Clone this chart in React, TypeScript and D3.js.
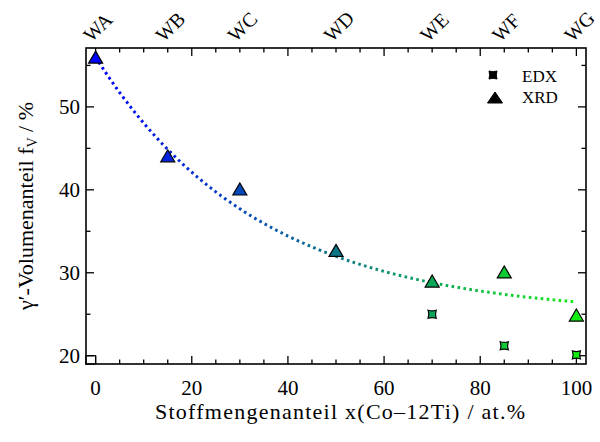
import React from "react";
import * as d3 from "d3";

const samples = ["WA", "WB", "WC", "WD", "WE", "WF", "WG"];
const xValues = [0, 15, 30, 50, 70, 85, 100];
const xrdValues = [56, 44.1, 40.1, 32.7, 29, 30.1, 24.9];
const edxX = [70, 85, 100];
const edxValues = [25, 21.2, 20.1];
// exponential fit y = y0 + a * exp(-x / tau)
const fitY0 = 24.86;
const fitA = 31.14;
const fitTau = 33.9;
const xMajorTicks = [0, 20, 40, 60, 80, 100];
const yMajorTicks = [20, 30, 40, 50];

const W = 600;
const H = 442;
const L = 86, R = 586, T = 48, B = 364;
const FONT = "Liberation Serif, DejaVu Serif, serif";

export default function App() {
  const x = d3.scaleLinear().domain([-2, 102]).range([L, R]);
  const y = d3.scaleLinear().domain([19, 57.1]).range([B, T]);
  const color = d3.interpolateRgb("#0000ff", "#11ee11");
  const c = (v: number) => color(v / 100);

  const xMinor = d3.range(0, 101, 5).filter((v) => v % 20 !== 0);
  const yMinor = [25, 35, 45, 55];

  const fitPts = d3.range(0, 100.01, 0.5).map((v) => [v, fitY0 + fitA * Math.exp(-v / fitTau)] as [number, number]);
  const line = d3.line<[number, number]>().x((d) => x(d[0])).y((d) => y(d[1]));

  const tri = (cx: number, cy: number, w = 14, h = 12) =>
    `M${cx},${cy - h / 2}L${cx + w / 2},${cy + h / 2}L${cx - w / 2},${cy + h / 2}Z`;
  const sq = (cx: number, cy: number, s = 4, d = 1.4) =>
    `M${cx - s},${cy - s}Q${cx},${cy - s + d} ${cx + s},${cy - s}Q${cx + s - d},${cy} ${cx + s},${cy + s}Q${cx},${cy + s - d} ${cx - s},${cy + s}Q${cx - s + d},${cy} ${cx - s},${cy - s}Z`;

  const majorLen = 8, minorLen = 4.5;
  const txt = { fontFamily: FONT };

  return (
    <svg width={W} height={H} style={{ position: "absolute", left: 0, top: 0, background: "#fff", fontFamily: FONT }}>
      <defs>
        <linearGradient id="fitgrad" gradientUnits="userSpaceOnUse" x1={x(0)} x2={x(100)} y1={0} y2={0}>
          <stop offset="0" stopColor={c(0)} />
          <stop offset="0.5" stopColor={c(50)} />
          <stop offset="1" stopColor={c(100)} />
        </linearGradient>
      </defs>
      <rect x={0} y={0} width={W} height={H} fill="#fff" />

      {/* ticks */}
      <g stroke="#000" strokeWidth={1.3}>
        {xMajorTicks.map((v) => (
          <g key={"xM" + v}>
            <line x1={x(v)} x2={x(v)} y1={B} y2={B - majorLen} />
            <line x1={x(v)} x2={x(v)} y1={T} y2={T + majorLen} />
          </g>
        ))}
        {xMinor.map((v) => (
          <g key={"xm" + v}>
            <line x1={x(v)} x2={x(v)} y1={B} y2={B - minorLen} />
            <line x1={x(v)} x2={x(v)} y1={T} y2={T + minorLen} />
          </g>
        ))}
        {yMajorTicks.map((v) => (
          <g key={"yM" + v}>
            <line x1={L} x2={L + majorLen} y1={y(v)} y2={y(v)} />
            <line x1={R} x2={R - majorLen} y1={y(v)} y2={y(v)} />
          </g>
        ))}
        {yMinor.map((v) => (
          <g key={"ym" + v}>
            <line x1={L} x2={L + minorLen} y1={y(v)} y2={y(v)} />
            <line x1={R} x2={R - minorLen} y1={y(v)} y2={y(v)} />
          </g>
        ))}
      </g>

      {/* corner artifact square */}
      <rect x={x(-2)} y={y(20)} width={x(0) - x(-2)} height={y(19) - y(20)} fill="none" stroke="#000" strokeWidth={1.2} />

      {/* fit line */}
      <path d={line(fitPts) || ""} fill="none" stroke="url(#fitgrad)" strokeWidth={3} strokeDasharray="2.6 3.4" />

      {/* XRD markers */}
      {xValues.map((v, i) => (
        <path key={"t" + i} d={tri(x(v), y(xrdValues[i]))} fill={c(v)} stroke="#000" strokeWidth={1.2} strokeLinejoin="miter" />
      ))}
      {/* EDX markers */}
      {edxX.map((v, i) => (
        <path key={"s" + i} d={sq(x(v), y(edxValues[i]))} fill={c(v)} stroke="#000" strokeWidth={1.2} />
      ))}

      {/* frame */}
      <rect x={L} y={T} width={R - L} height={B - T} fill="none" stroke="#000" strokeWidth={1.6} />

      {/* tick labels */}
      <g fontSize={21} fill="#000">
        {xMajorTicks.map((v) => (
          <text key={"xl" + v} style={txt} x={x(v)} y={395} textAnchor="middle">{v}</text>
        ))}
        {yMajorTicks.map((v) => (
          <text key={"yl" + v} style={txt} x={80} y={y(v) + 7} textAnchor="end">{v}</text>
        ))}
      </g>

      {/* top sample labels */}
      <g fontSize={20} fill="#000">
        {samples.map((s, i) => (
          <text key={s} style={txt} transform={`translate(${x(xValues[i]) - 4},43) rotate(-45)`} textAnchor="start">{s}</text>
        ))}
      </g>

      {/* axis titles */}
      <text style={txt} x={340} y={419} textAnchor="middle" fontSize={22} textLength={370} lengthAdjust="spacing">Stoffmengenanteil x(Co–12Ti) / at.%</text>
      <text style={txt} transform={`translate(33,206) rotate(-90)`} textAnchor="middle" fontSize={22}>
        <tspan>γ′-Volumenanteil f</tspan>
        <tspan fontSize={14} dy={4}>V</tspan>
        <tspan dy={-4}> / %</tspan>
      </text>

      {/* legend */}
      <path d={sq(493, 75)} fill="#000" stroke="#000" strokeWidth={1} />
      <text style={txt} x={522} y={82} fontSize={17}>EDX</text>
      <path d={tri(495, 97.5, 15, 11)} fill="#000" stroke="#000" strokeWidth={1} />
      <text style={txt} x={522} y={103} fontSize={17}>XRD</text>
    </svg>
  );
}
